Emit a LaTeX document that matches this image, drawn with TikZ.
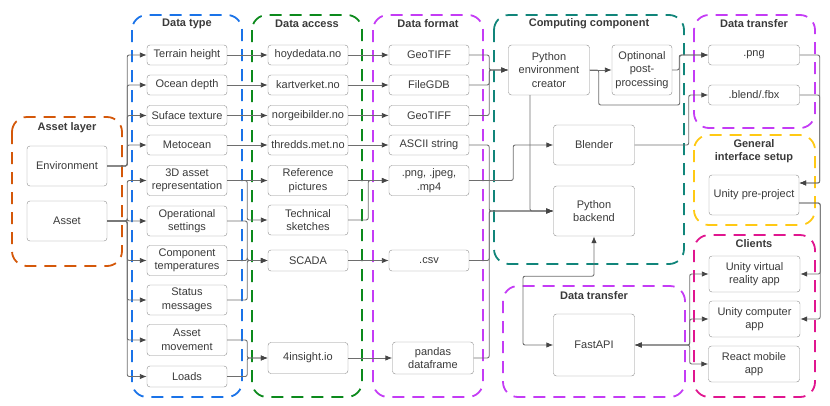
\documentclass[tikz,border=0pt]{standalone}
\usepackage{fontspec}
\setmainfont{Liberation Sans}
\usetikzlibrary{arrows.meta,positioning}
\definecolor{txtgray}{HTML}{3A3A3A}
\definecolor{boxgray}{HTML}{8C8C8C}
\definecolor{wiregray}{HTML}{6E6E6E}
\definecolor{tipgray}{HTML}{454545}
\definecolor{cOrange}{HTML}{D4580A}
\definecolor{cBlue}{HTML}{1A73E8}
\definecolor{cGreen}{HTML}{0C8A1C}
\definecolor{cViolet}{HTML}{C43CF5}
\definecolor{cTeal}{HTML}{11857A}
\definecolor{cYellow}{HTML}{FFC914}
\definecolor{cPink}{HTML}{E0168F}

\begin{document}
\begin{tikzpicture}[x=1pt,y=-1pt,node distance=121pt,
  >={Latex[length=7pt,width=5.5pt,color=tipgray]},
  every node/.style={text=txtgray},
  box/.style={draw=boxgray,fill=white,rounded corners=3pt,minimum width=80pt,minimum height=20pt,
    inner sep=1pt,align=center,font=\fontsize{11}{13.5}\selectfont},
  tall/.style={minimum height=30pt},
  grp/.style={dash pattern=on 12pt off 8pt,line width=1.8pt,rounded corners=15pt},
  ttl/.style={font=\fontsize{11}{13}\selectfont\bfseries,align=center},
  wire/.style={draw=wiregray,line width=0.9pt,rounded corners=2pt}]
  \useasboundingbox (0,0) rectangle (830,405);

  % group frames
  \draw[grp,cOrange] (12,117) rectangle (122,266);
  \draw[grp,cBlue] (132,15) rectangle (242,397);
  \draw[grp,cGreen] (252,15) rectangle (362,397);
  \draw[grp,cViolet] (373,15) rectangle (483,397);
  \draw[grp,cTeal] (494,15) rectangle (684,264);
  \draw[grp,cViolet] (694,15) rectangle (815,128);
  \draw[grp,cYellow] (694,135) rectangle (815,225);
  \draw[grp,cPink] (694,235) rectangle (815,397);
  \draw[grp,cViolet] (503,286) rectangle (685,397);

  \node[ttl] (tAsset) at (67,128) {Asset layer};
  \node[ttl] (tType) at (187,24) {Data type};
  \node[ttl] (tAccess) at (307,24) {Data access};
  \node[ttl] (tFormat) at (428,24) {Data format};
  \node[ttl] (tComp) at (589,24) {Computing component};
  \node[ttl] (tTransfer) at (754,24) {Data transfer};
  \node[ttl] (tGeneral) at (754,151) {General\\interface setup};
  \node[ttl] (tClients) at (754,244) {Clients};
  \node[ttl] (tTransferB) at (594,296) {Data transfer};

  % asset layer
  \node[box,minimum height=40pt] (env) at (67,166) {Environment};
  \node[box,minimum height=40pt] (asset) at (67,221) {Asset};

  % data type
  \node[box] (terrain) at (187,55) {Terrain height};
  \node[box] (ocean) at (187,85) {Ocean depth};
  \node[box] (surface) at (187,115.5) {Suface texture};
  \node[box] (meto) at (187,145) {Metocean};
  \node[box,tall] (asset3d) at (187,180.5) {3D asset\\representation};
  \node[box,tall] (opset) at (187,221) {Operational\\settings};
  \node[box,tall] (comptemp) at (187,260.5) {Component\\temperatures};
  \node[box,tall] (status) at (187,300) {Status\\messages};
  \node[box,minimum height=31pt] (movement) at (187,340) {Asset\\movement};
  \node[box,minimum height=21pt] (loads) at (187,376.5) {Loads};

  % data access
  \node[box] (hoyde) [right of=terrain] {hoydedata.no};
  \node[box] (kart) [right of=ocean] {kartverket.no};
  \node[box] (norge) [right of=surface] {norgeibilder.no};
  \node[box] (thredds) [right of=meto] {thredds.met.no};
  \node[box,tall] (refpic) [right of=asset3d] {Reference\\pictures};
  \node[box,tall] (techsk) [right of=opset,yshift=1pt] {Technical\\sketches};
  \node[box,minimum height=21pt] (scada) [right of=comptemp] {SCADA};
  \node[box,minimum height=31pt] (insight) [right of=movement,yshift=-18pt] {4insight.io};

  % data format
  \node[box] (tiff1) [right of=hoyde] {GeoTIFF};
  \node[box] (gdb) [right of=kart] {FileGDB};
  \node[box] (tiff2) [right of=norge] {GeoTIFF};
  \node[box] (ascii) [right of=thredds] {ASCII string};
  \node[box,tall] (media) [right of=refpic] {.png, .jpeg,\\.mp4};
  \node[box,minimum height=21pt] (csv) [right of=scada] {.csv};
  \node[box,minimum height=32pt,minimum width=81pt] (pandas) [right of=insight,xshift=4pt] {pandas\\dataframe};

  % computing component
  \node[box,minimum width=81pt,minimum height=50pt] (creator) at (549,70) {Python\\environment\\creator};
  \node[box,minimum width=60pt,minimum height=50pt] (postproc) at (642,70) {Optinonal\\post-\\processing};
  \node[box,minimum width=81pt,minimum height=40pt] (blender) at (594,145) {Blender};
  \node[box,minimum width=81pt,minimum height=50pt] (backend) at (594,211) {Python\\backend};
  \node[box,minimum width=81pt,minimum height=62pt] (fastapi) at (594,345) {FastAPI};

  % transfer, interface, clients
  \node[box,minimum width=91pt] (dpng) at (754,55) {.png};
  \node[box,minimum width=91pt] (dblend) at (754,95) {.blend/.fbx};
  \node[box,minimum width=90pt,minimum height=40pt] (unitypre) at (754,195) {Unity pre-project};
  \node[box,minimum width=91pt,minimum height=36pt] (unityvr) at (754.5,274) {Unity virtual\\reality app};
  \node[box,minimum width=91pt,minimum height=36pt] (unitypc) at (754.5,319) {Unity computer\\app};
  \node[box,minimum width=91pt,minimum height=36pt] (react) at (754,364) {React mobile\\app};

  % asset layer -> data type
  \draw[wire,->] (env.east) -- ++(20,0) |- (terrain.west);
  \draw[wire,->] (env.east) -- ++(20,0) |- (ocean.west);
  \draw[wire,->] (env.east) -- ++(20,0) |- (surface.west);
  \draw[wire,->] (env.east) -- ++(20,0) |- (meto.west);
  \draw[wire,->] (asset.east) -- ++(20,0) |- (asset3d.west);
  \draw[wire,->] (asset.east) -- ++(20,0) |- (opset.west);
  \draw[wire,->] (asset.east) -- ++(20,0) |- (comptemp.west);
  \draw[wire,->] (asset.east) -- ++(20,0) |- (status.west);
  \draw[wire,->] (asset.east) -- ++(20,0) |- (movement.west);
  \draw[wire,->] (asset.east) -- ++(20,0) |- (loads.west);

  % data type -> data access
  \draw[wire,->] (terrain) -- (hoyde);
  \draw[wire,->] (ocean) -- (kart);
  \draw[wire,->] (surface) -- (norge);
  \draw[wire,->] (meto) -- (thredds);
  \draw[wire,->] (asset3d) -- (refpic);
  \draw[wire,->] (asset3d.east) -- ++(20,0) |- (techsk.west);
  \draw[wire,->] (opset.east) -- ++(20,0) |- (scada.west);
  \draw[wire,->] (comptemp.east) -- ++(20,0) |- (scada.west);
  \draw[wire,->] (status.east) -- ++(20,0) |- (scada.west);
  \draw[wire,->] (movement.east) -- ++(20,0) |- (insight.west);
  \draw[wire,->] (loads.east) -- ++(20,0) |- (insight.west);

  % data access -> data format
  \draw[wire,->] (hoyde) -- (tiff1);
  \draw[wire,->] (kart) -- (gdb);
  \draw[wire,->] (norge) -- (tiff2);
  \draw[wire,->] (thredds) -- (ascii);
  \draw[wire,->] (refpic) -- (media);
  \draw[wire,->] (techsk.east) -- ++(20,0) |- (media.west);
  \draw[wire,->] (scada) -- (csv);
  \draw[wire,->] (insight) -- (pandas);

  % data format -> computing
  \draw[wire,->] (tiff1.east) -- ++(20,0) |- (creator.west);
  \draw[wire,->] (gdb.east) -- ++(20,0) |- (creator.west);
  \draw[wire,->] (tiff2.east) -- ++(20,0) |- (creator.west);
  \draw[wire,->] (ascii.east) -- ++(20,0) |- (backend.west);
  \draw[wire,->] (csv.east) -- ++(20,0) |- (backend.west);
  \draw[wire,->] (pandas.east) -- ++(15.5,0) |- (backend.west);
  \draw[wire,->] (media.east) -- ++(44,0) |- (blender.west);
  \draw[wire,->] ([xshift=-19pt]creator.south) |- (backend.west);

  % computing -> transfer -> clients
  \draw[wire,->] (creator) -- (postproc);
  \draw[wire,->] (creator.east) -- ++(9,0) -- ++(0,35) -- ++(81,0) |- (dpng.west);
  \draw[wire,->] (postproc.east) -- ++(7,0) |- (dpng.west);
  \draw[wire,->] (blender.east) -- ++(54,0) |- (dblend.west);
  \draw[wire,->] (dpng.east) -- ++(20,0) |- ([yshift=12pt]unitypre.east);
  \draw[wire,->] (dblend.east) -- ++(20,0) |- ([yshift=12pt]unitypre.east);
  \draw[wire,->] ([yshift=-8pt]unitypre.east) -- ++(21,0) |- (unityvr.east);
  \draw[wire,->] ([yshift=-8pt]unitypre.east) -- ++(21,0) |- (unitypc.east);
  \draw[wire,<->] (fastapi.east) -- ++(55,0) |- (unityvr.west);
  \draw[wire,<->] (fastapi.east) -- ++(55,0) |- (unitypc.west);
  \draw[wire,<->] (fastapi.east) -- ++(55,0) |- (react.west);
  \draw[wire,<->] (backend.south) -- ++(0,40) -- ++(-71,0) |- (fastapi.west);
\end{tikzpicture}
\end{document}
